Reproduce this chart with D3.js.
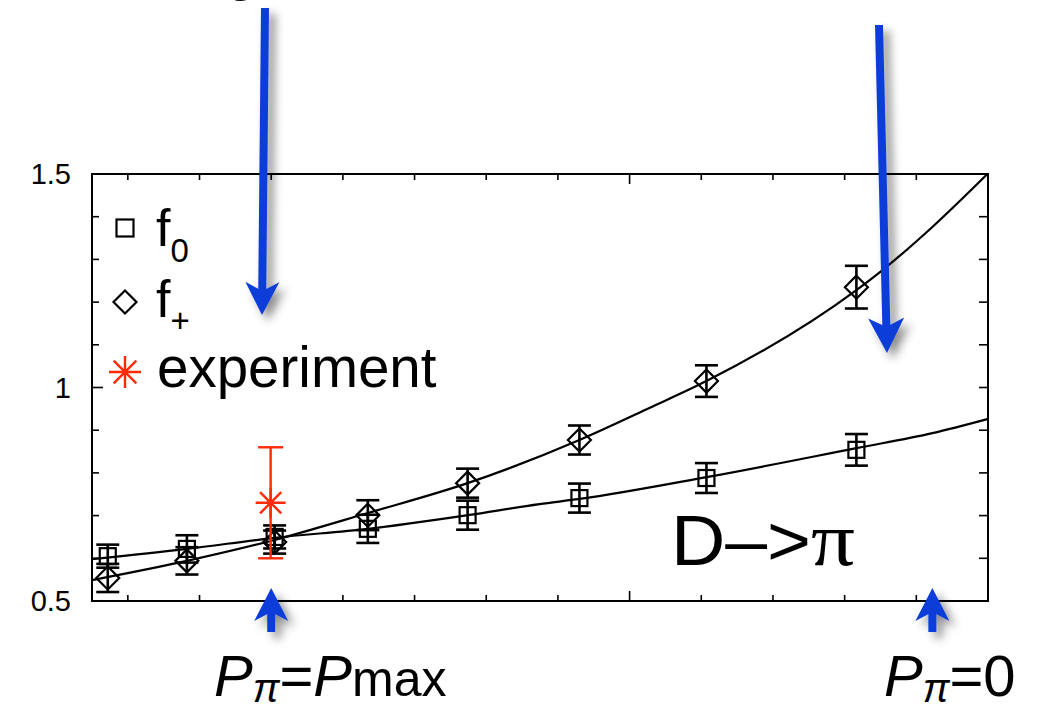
<!DOCTYPE html>
<html>
<head>
<meta charset="utf-8">
<script src="https://cdn.jsdelivr.net/npm/d3@7"></script>
<style>
  html, body { margin: 0; padding: 0; background: #fff; }
  svg { display: block; font-family: "Liberation Sans", Arial, Helvetica, sans-serif; }
</style>
</head>
<body>
<svg id="chart" width="1048" height="706"></svg>
<script>
// ---------- data ----------
const xPoints = [-0.07, 0.206, 0.512, 0.837, 1.185, 1.575, 2.018, 2.541];
const f0Values = [0.605, 0.622, 0.650, 0.669, 0.701, 0.741, 0.788, 0.854];
const f0Errors = [0.027, 0.032, 0.027, 0.033, 0.034, 0.034, 0.035, 0.037];
const fPlusValues = [0.554, 0.594, 0.638, 0.701, 0.776, 0.877, 1.015, 1.235];
const fPlusErrors = [0.033, 0.032, 0.027, 0.035, 0.034, 0.034, 0.037, 0.050];

const expX = [0.498];
const expValues = [0.730];
const expErrors = [0.130];

const f0CurveX = [-0.125, 0.206, 0.512, 0.837, 1.185, 1.436, 1.575, 2.018, 2.541, 2.806, 2.998];
const f0CurveY = [0.598, 0.622, 0.648, 0.669, 0.701, 0.727, 0.739, 0.790, 0.858, 0.893, 0.926];
const fPlusCurveX = [-0.125, 0.206, 0.512, 0.837, 1.185, 1.575, 1.819, 2.018, 2.541, 2.632, 2.806, 2.998];
const fPlusCurveY = [0.549, 0.594, 0.643, 0.706, 0.776, 0.877, 0.952, 1.015, 1.228, 1.275, 1.376, 1.5];

const xMinorTicks = [0, 0.25, 0.5, 0.75, 1.0, 1.25, 1.5, 1.75, 2.0, 2.25, 2.5, 2.75];
const xMajorTicks = [1.75];
const yMinorTicks = [0.6, 0.7, 0.8, 0.9, 1.0, 1.1, 1.2, 1.3, 1.4];
const yMajorTicks = [1.0];
const yTickLabels = [{v: 0.5, t: "0.5"}, {v: 1.0, t: "1"}, {v: 1.5, t: "1.5"}];

const legendNames = ["f0", "f+", "experiment"];
const annotationText = ["D\u2013>", "\u03c0"];
const arrowX = [0.5, 2.806];      // P_pi = P_max, P_pi = 0

(function () {
// ---------- setup ----------
const svg = d3.select("#chart");
const pL = 92, pR = 988, pT = 174, pB = 601;
const x = d3.scaleLinear().domain([-0.125, 3.0]).range([pL, pR]);
const y = d3.scaleLinear().domain([0.5, 1.5]).range([pB, pT]);

const defs = svg.append("defs");
const flt = defs.append("filter").attr("id", "shadow")
  .attr("x", "-100%").attr("y", "-20%").attr("width", "300%").attr("height", "140%");
flt.append("feDropShadow").attr("dx", 6).attr("dy", 6).attr("stdDeviation", 5)
  .attr("flood-color", "#000").attr("flood-opacity", 0.45);

const blue = "#0a3ed8";
const red = "#ff2a06";

// partial title at top (only descender visible)
svg.append("text").attr("x", 226).attr("y", -10.5).attr("font-size", 54).text("g");

// ---------- frame and ticks ----------
svg.append("rect").attr("x", pL).attr("y", pT).attr("width", pR - pL).attr("height", pB - pT)
  .attr("fill", "none").attr("stroke", "#000").attr("stroke-width", 2);

const tickG = svg.append("g").attr("stroke", "#000").attr("stroke-width", 1.6);
xMinorTicks.forEach(v => {
  const len = xMajorTicks.includes(v) ? 10 : 6;
  tickG.append("line").attr("x1", x(v)).attr("x2", x(v)).attr("y1", pB).attr("y2", pB - len);
  tickG.append("line").attr("x1", x(v)).attr("x2", x(v)).attr("y1", pT).attr("y2", pT + len);
});
yMinorTicks.forEach(v => {
  const lenL = yMajorTicks.includes(v) ? 11 : 7;
  tickG.append("line").attr("x1", pL).attr("x2", pL + lenL).attr("y1", y(v)).attr("y2", y(v));
  tickG.append("line").attr("x1", pR).attr("x2", pR - 9).attr("y1", y(v)).attr("y2", y(v));
});

svg.selectAll(".ylab").data(yTickLabels).enter().append("text")
  .attr("x", 71).attr("y", d => y(d.v)).attr("dy", "0.36em")
  .attr("text-anchor", "end").attr("font-size", 29).text(d => d.t);

// ---------- curves ----------
const line = d3.line().x(d => x(d[0])).y(d => y(d[1])).curve(d3.curveMonotoneX);
svg.append("path").datum(d3.zip(f0CurveX, f0CurveY)).attr("d", line)
  .attr("fill", "none").attr("stroke", "#000").attr("stroke-width", 2.2);
svg.append("path").datum(d3.zip(fPlusCurveX, fPlusCurveY)).attr("d", line)
  .attr("fill", "none").attr("stroke", "#000").attr("stroke-width", 2.2);

// ---------- error bars & markers ----------
function errorBars(xs, vs, es, color, cap, sw) {
  const g = svg.append("g").attr("stroke", color).attr("stroke-width", sw).attr("fill", "none");
  xs.forEach((xv, i) => {
    const cx = x(xv), y1 = y(vs[i] + es[i]), y2 = y(vs[i] - es[i]);
    g.append("line").attr("x1", cx).attr("x2", cx).attr("y1", y1).attr("y2", y2);
    g.append("line").attr("x1", cx - cap).attr("x2", cx + cap).attr("y1", y1).attr("y2", y1);
    g.append("line").attr("x1", cx - cap).attr("x2", cx + cap).attr("y1", y2).attr("y2", y2);
  });
}
function square(g, cx, cy, s) {
  g.append("rect").attr("x", cx - s / 2).attr("y", cy - s / 2).attr("width", s).attr("height", s)
    .attr("fill", "none").attr("stroke", "#000").attr("stroke-width", 2.2);
}
function diamond(g, cx, cy, r) {
  g.append("path").attr("d", `M${cx},${cy - r}L${cx + r},${cy}L${cx},${cy + r}L${cx - r},${cy}Z`)
    .attr("fill", "none").attr("stroke", "#000").attr("stroke-width", 2.2);
}
function asterisk(g, cx, cy, r, color) {
  const d = r * Math.SQRT1_2;
  g.append("path")
    .attr("d", `M${cx - r},${cy}L${cx + r},${cy}M${cx},${cy - r}L${cx},${cy + r}M${cx - d},${cy - d}L${cx + d},${cy + d}M${cx - d},${cy + d}L${cx + d},${cy - d}`)
    .attr("stroke", color).attr("stroke-width", 2.4).attr("fill", "none");
}

errorBars(xPoints, f0Values, f0Errors, "#000", 11.5, 2.6);
errorBars(xPoints, fPlusValues, fPlusErrors, "#000", 11.5, 2.6);
const mk = svg.append("g");
xPoints.forEach((xv, i) => square(mk, x(xv), y(f0Values[i]), 16));
xPoints.forEach((xv, i) => diamond(mk, x(xv), y(fPlusValues[i]), 11.5));

errorBars(expX, expValues, expErrors, red, 12.5, 2.4);
expX.forEach((xv, i) => asterisk(mk, x(xv), y(expValues[i]), 15, red));

// ---------- legend ----------
const lg = svg.append("g");
square(lg, 125, 228, 17);
diamond(lg, 125, 302, 11.5);
asterisk(lg, 125, 372, 16, red);
const t0 = lg.append("text").attr("x", 156).attr("y", 246).attr("font-size", 52);
t0.append("tspan").text(legendNames[0][0]);
t0.append("tspan").attr("font-size", 33).attr("dy", 16).text(legendNames[0].slice(1));
const t1 = lg.append("text").attr("x", 156).attr("y", 317).attr("font-size", 52);
t1.append("tspan").text(legendNames[1][0]);
t1.append("tspan").attr("font-size", 33).attr("dy", 15).text(legendNames[1].slice(1));
lg.append("text").attr("x", 157).attr("y", 387).attr("font-size", 56.5).text(legendNames[2]);

// annotation
const an = svg.append("text").attr("x", 671).attr("y", 565).attr("font-size", 70);
an.append("tspan").attr("textLength", 140).attr("lengthAdjust", "spacingAndGlyphs").text(annotationText[0]);
an.append("tspan").attr("font-family", "'Liberation Serif', 'DejaVu Serif', serif").attr("font-size", 76)
  .attr("textLength", 44).attr("lengthAdjust", "spacingAndGlyphs").text(annotationText[1]);

// ---------- blue arrows ----------
const ag = svg.append("g").attr("filter", "url(#shadow)");
function arrow(x0, y0, tx, ty, headLen, halfW) {
  const dx = tx - x0, dy = ty - y0, L = Math.hypot(dx, dy);
  const ux = dx / L, uy = dy / L, px = -uy, py = ux;
  const bx = tx - ux * headLen, by = ty - uy * headLen;
  const nx = tx - ux * (headLen - 9), ny = ty - uy * (headLen - 9);
  ag.append("line").attr("x1", x0).attr("y1", y0).attr("x2", nx).attr("y2", ny)
    .attr("stroke", blue).attr("stroke-width", 8);
  ag.append("path")
    .attr("d", `M${tx},${ty}L${bx + px * halfW},${by + py * halfW}L${nx},${ny}L${bx - px * halfW},${by - py * halfW}Z`)
    .attr("fill", blue);
}
arrow(265, 8, 262, 315, 33, 17);
arrow(879, 25, 887, 353, 35, 18);
arrowX.forEach(v => arrow(x(v), 632, x(v), 588, 33, 17));

// ---------- bottom labels ----------
function pLabel(xp, rest) {
  const t = svg.append("text").attr("x", xp).attr("y", 696).attr("font-size", 58);
  t.append("tspan").attr("font-style", "italic").text("P");
  t.append("tspan").attr("font-style", "italic").attr("font-size", 40).attr("dy", 6).text("\u03c0");
  t.append("tspan").attr("dy", -6).text("=");
  rest(t);
}
pLabel(214, t => {
  t.append("tspan").attr("font-style", "italic").text("P");
  t.append("tspan").attr("font-size", 50).text("max");
});
pLabel(884, t => { t.append("tspan").text("0"); });
})();
</script>
</body>
</html>
